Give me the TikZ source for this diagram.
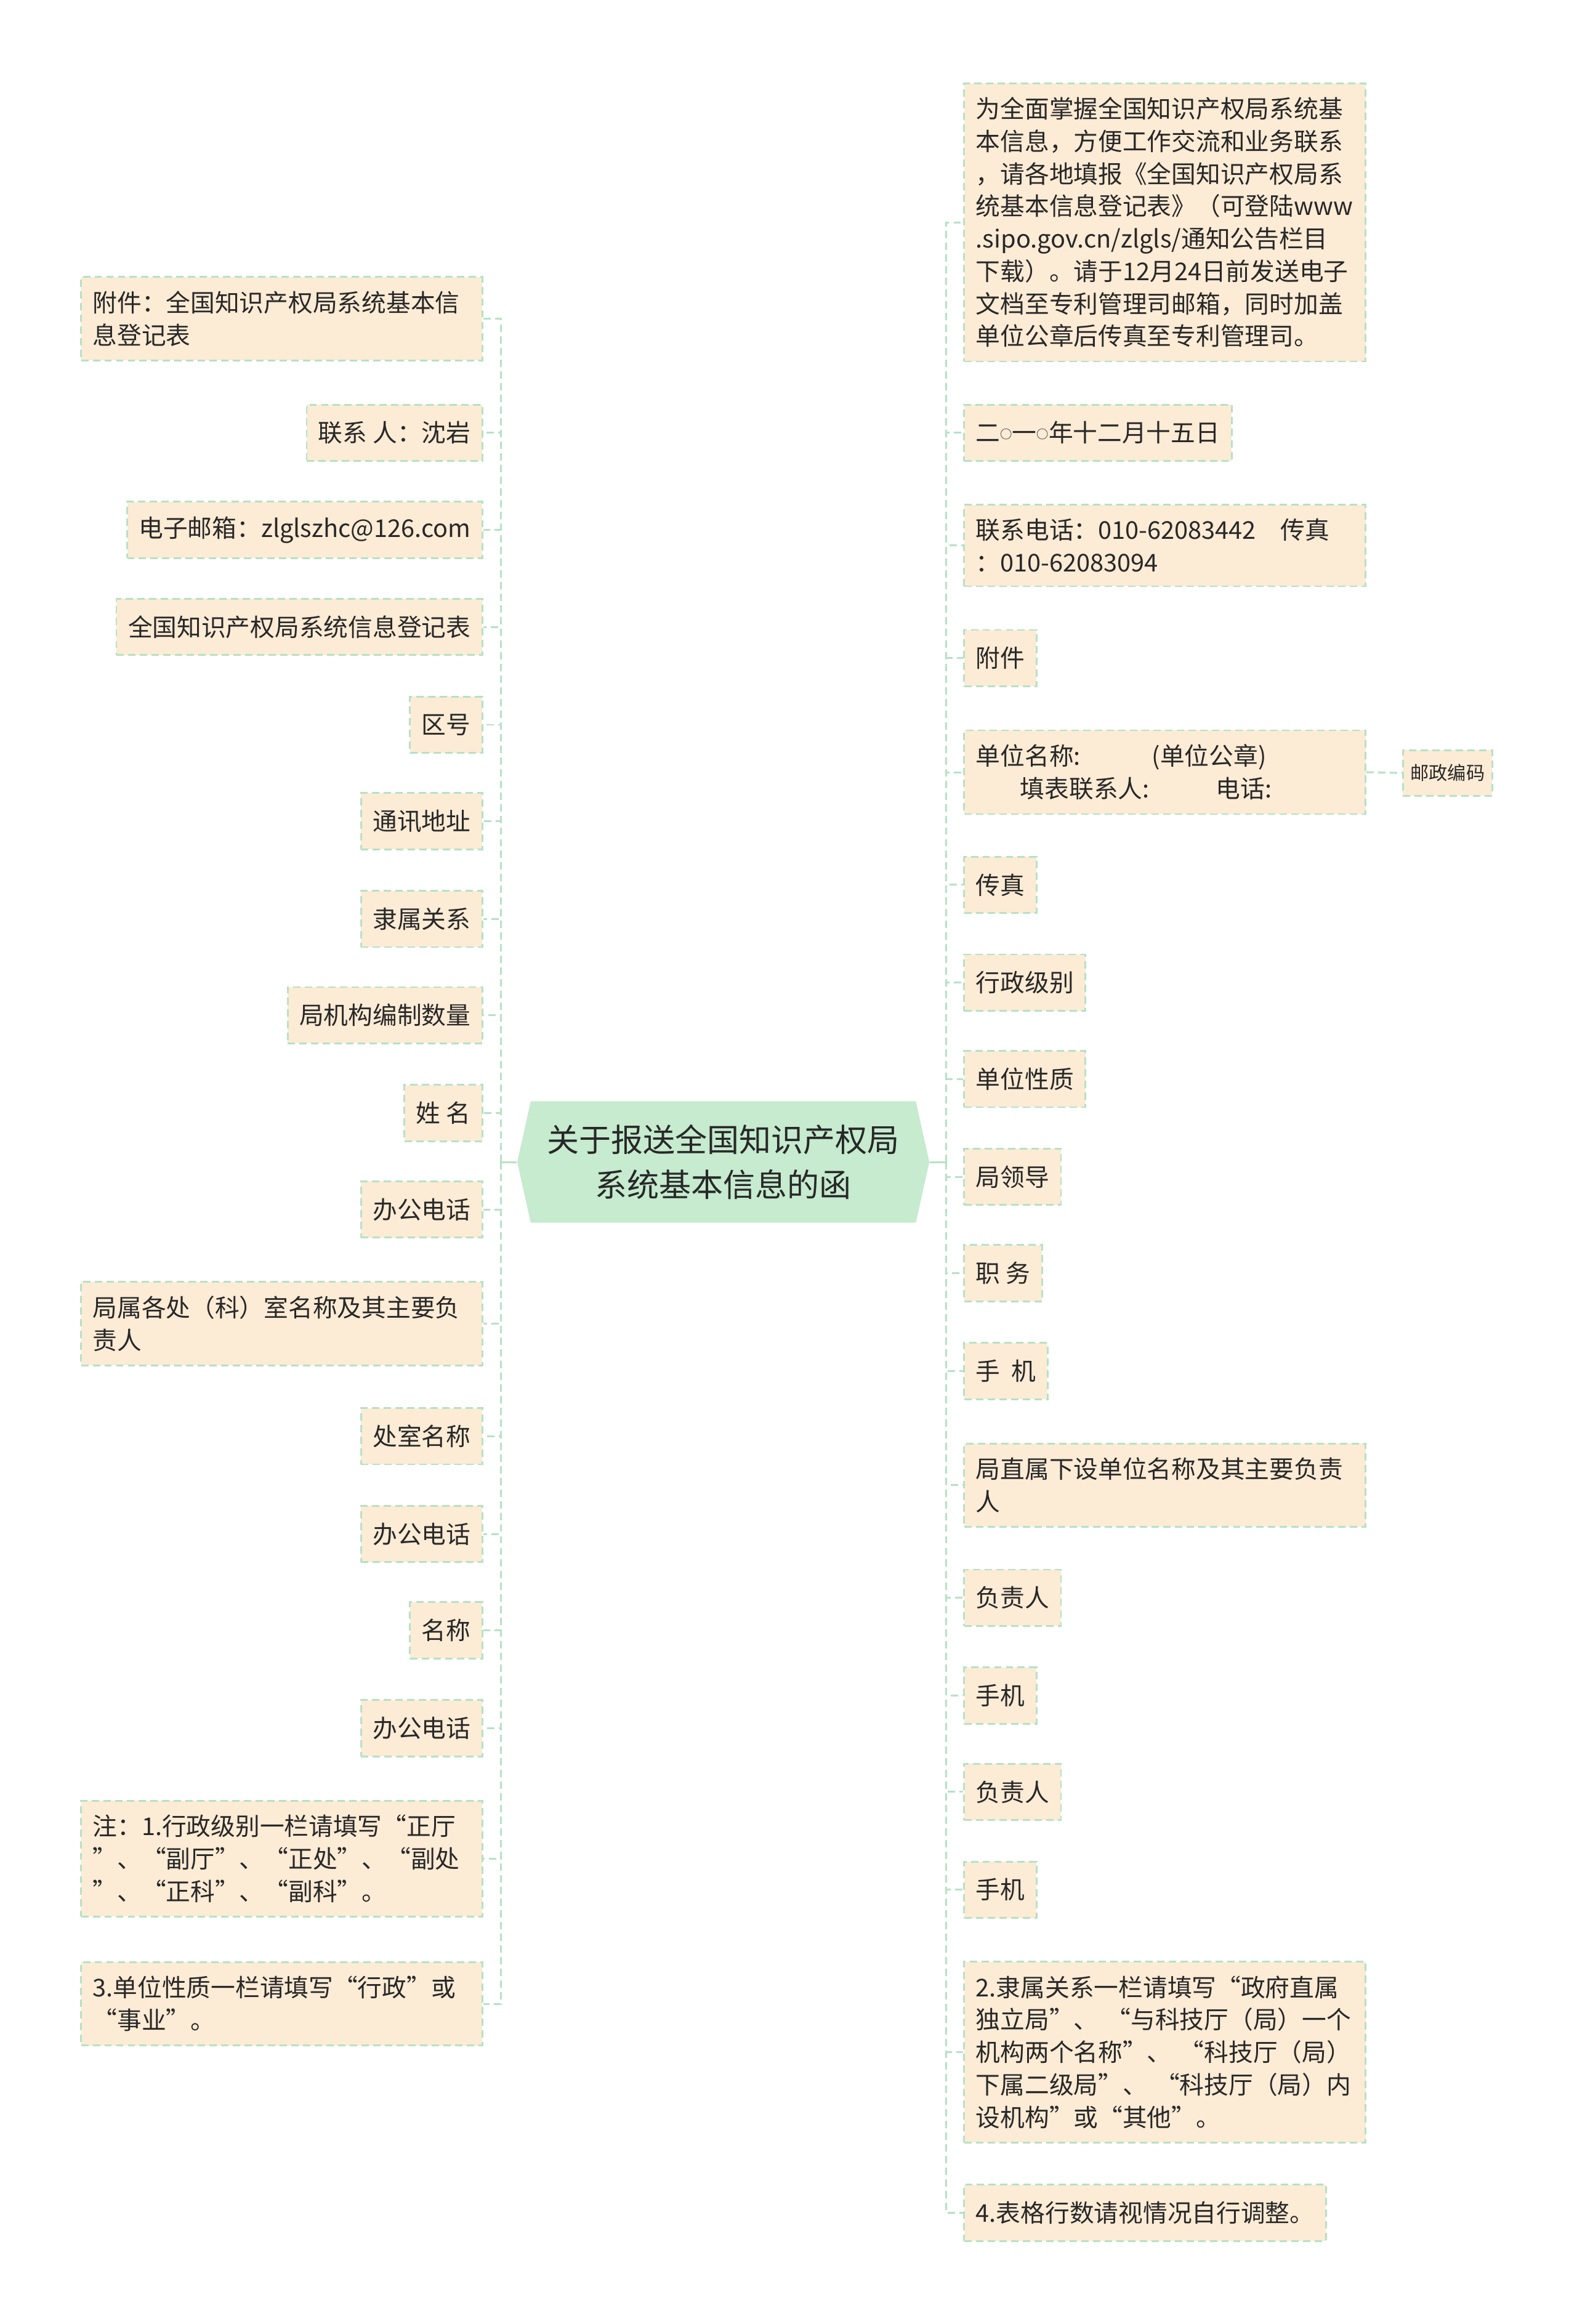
\documentclass[tikz,border=0pt]{standalone}
\usepackage{fontspec}
\setmainfont{Noto Sans CJK SC}
\usetikzlibrary{shapes.symbols}
\definecolor{leafbeige}{RGB}{252,235,213}
\definecolor{linegreen}{RGB}{181,226,196}
\definecolor{hubgreen}{RGB}{198,235,207}
\definecolor{inkgray}{RGB}{40,40,40}
\newcommand{\zerocirc}{\raisebox{1.6pt}{\fontsize{5.5}{6}\selectfont ○}}

\begin{document}
\begin{tikzpicture}[x=0.02406cm,y=-0.02406cm,
  font=\fontsize{11.3}{15}\selectfont, text=inkgray,
  leaf/.style={draw=linegreen,fill=leafbeige,line width=0.8pt,dash pattern=on 3.4pt off 2pt,inner xsep=0.19cm,inner ysep=6.5pt,minimum height=0.914cm},
  wide/.style={leaf,text width=6.135cm,align=left},
  hub/.style={shape=signal,signal to=east and west,signal pointer angle=155,fill=hubgreen,align=center,font=\fontsize{14.8}{20.5}\selectfont,minimum width=6.69cm,minimum height=1.973cm},
  link/.style={draw=linegreen,line width=0.85pt,dash pattern=on 3.4pt off 2pt},
  stem/.style={draw=linegreen,line width=0.85pt}
]
  \useasboundingbox (0,0) rectangle (1064,1568);
  \node[hub] (root) at (488,784) {关于报送全国知识产权局\\系统基本信息的函};
  \coordinate (lj) at (338,784);
  \coordinate (rj) at (638.5,784);

  % left side
  \node[wide,anchor=east] (l1) at (326,215) {附件：全国知识产权局系统基本信\\息登记表};
  \node[leaf,anchor=east] (l2) at (326,292) {联系 人：沈岩};
  \node[leaf,anchor=east] (l3) at (326,357.5) {电子邮箱：zlglszhc@126.com};
  \node[leaf,anchor=east] (l4) at (326,423) {全国知识产权局系统信息登记表};
  \node[leaf,anchor=east] (l5) at (326,489) {区号};
  \node[leaf,anchor=east] (l6) at (326,554) {通讯地址};
  \node[leaf,anchor=east] (l7) at (326,620) {隶属关系};
  \node[leaf,anchor=east] (l8) at (326,685) {局机构编制数量};
  \node[leaf,anchor=east] (l9) at (326,751) {姓 名};
  \node[leaf,anchor=east] (l10) at (326,816) {办公电话};
  \node[wide,anchor=east] (l11) at (326,893) {局属各处（科）室名称及其主要负\\责人};
  \node[leaf,anchor=east] (l12) at (326,969) {处室名称};
  \node[leaf,anchor=east] (l13) at (326,1035) {办公电话};
  \node[leaf,anchor=east] (l14) at (326,1100) {名称};
  \node[leaf,anchor=east] (l15) at (326,1166) {办公电话};
  \node[wide,anchor=east] (l16) at (326,1254) {注：1.行政级别一栏请填写“正厅\\”、“副厅”、“正处”、“副处\\”、“正科”、“副科”。};
  \node[wide,anchor=east] (l17) at (326,1352) {3.单位性质一栏请填写“行政”或\\“事业”。};

  % right side
  \node[wide,anchor=west] (r1) at (650,150) {为全面掌握全国知识产权局系统基\\本信息，方便工作交流和业务联系\\，请各地填报《全国知识产权局系\\统基本信息登记表》（可登陆www\\.sipo.gov.cn/zlgls/通知公告栏目\\下载）。请于12月24日前发送电子\\文档至专利管理司邮箱，同时加盖\\单位公章后传真至专利管理司。};
  \node[leaf,anchor=west] (r2) at (650,292) {二\zerocirc 一\zerocirc 年十二月十五日};
  \node[wide,anchor=west] (r3) at (650,368) {联系电话：010-62083442　传真\\：010-62083094};
  \node[leaf,anchor=west] (r4) at (650,444) {附件};
  \node[wide,anchor=west] (r5) at (650,521) {单位名称:\hspace{1.16cm}(单位公章)\\\hspace*{0.72cm}填表联系人:\hspace{1.08cm}电话:};
  \node[leaf,anchor=west,font=\fontsize{8.6}{11}\selectfont,inner xsep=0.12cm,minimum height=0.7cm] (r5a) at (946,521.5) {邮政编码};
  \node[leaf,anchor=west] (r6) at (650,597) {传真};
  \node[leaf,anchor=west] (r7) at (650,663) {行政级别};
  \node[leaf,anchor=west] (r8) at (650,728) {单位性质};
  \node[leaf,anchor=west] (r9) at (650,794) {局领导};
  \node[leaf,anchor=west] (r10) at (650,859) {职 务};
  \node[leaf,anchor=west] (r11) at (650,925) {手\ \ 机};
  \node[wide,anchor=west] (r12) at (650,1002) {局直属下设单位名称及其主要负责\\人};
  \node[leaf,anchor=west] (r13) at (650,1078) {负责人};
  \node[leaf,anchor=west] (r14) at (650,1144) {手机};
  \node[leaf,anchor=west] (r15) at (650,1209) {负责人};
  \node[leaf,anchor=west] (r16) at (650,1275) {手机};
  \node[wide,anchor=west] (r17) at (650,1384.5) {2.隶属关系一栏请填写“政府直属\\独立局”、\ “与科技厅（局）一个\\机构两个名称”、\ “科技厅（局）\\下属二级局”、\ “科技厅（局）内\\设机构”或“其他”。};
  \node[leaf,anchor=west] (r18) at (650,1493) {4.表格行数请视情况自行调整。};

  % connectors
  \draw[stem] (root.west) -- (lj); \draw[stem] (root.east) -- (rj);
  \draw[link] (lj) |- (l1.east); \draw[link] (lj) |- (l2.east); \draw[link] (lj) |- (l3.east);
  \draw[link] (lj) |- (l4.east); \draw[link] (lj) |- (l5.east); \draw[link] (lj) |- (l6.east);
  \draw[link] (lj) |- (l7.east); \draw[link] (lj) |- (l8.east); \draw[link] (lj) |- (l9.east);
  \draw[link] (lj) |- (l10.east); \draw[link] (lj) |- (l11.east); \draw[link] (lj) |- (l12.east);
  \draw[link] (lj) |- (l13.east); \draw[link] (lj) |- (l14.east); \draw[link] (lj) |- (l15.east);
  \draw[link] (lj) |- (l16.east); \draw[link] (lj) |- (l17.east);
  \draw[link] (rj) |- (r1.west); \draw[link] (rj) |- (r2.west); \draw[link] (rj) |- (r3.west);
  \draw[link] (rj) |- (r4.west); \draw[link] (rj) |- (r5.west); \draw[link] (rj) |- (r6.west);
  \draw[link] (rj) |- (r7.west); \draw[link] (rj) |- (r8.west); \draw[link] (rj) |- (r9.west);
  \draw[link] (rj) |- (r10.west); \draw[link] (rj) |- (r11.west); \draw[link] (rj) |- (r12.west);
  \draw[link] (rj) |- (r13.west); \draw[link] (rj) |- (r14.west); \draw[link] (rj) |- (r15.west);
  \draw[link] (rj) |- (r16.west); \draw[link] (rj) |- (r17.west); \draw[link] (rj) |- (r18.west);
  \draw[link] (r5.east) -- (r5a.west);
\end{tikzpicture}
\end{document}
